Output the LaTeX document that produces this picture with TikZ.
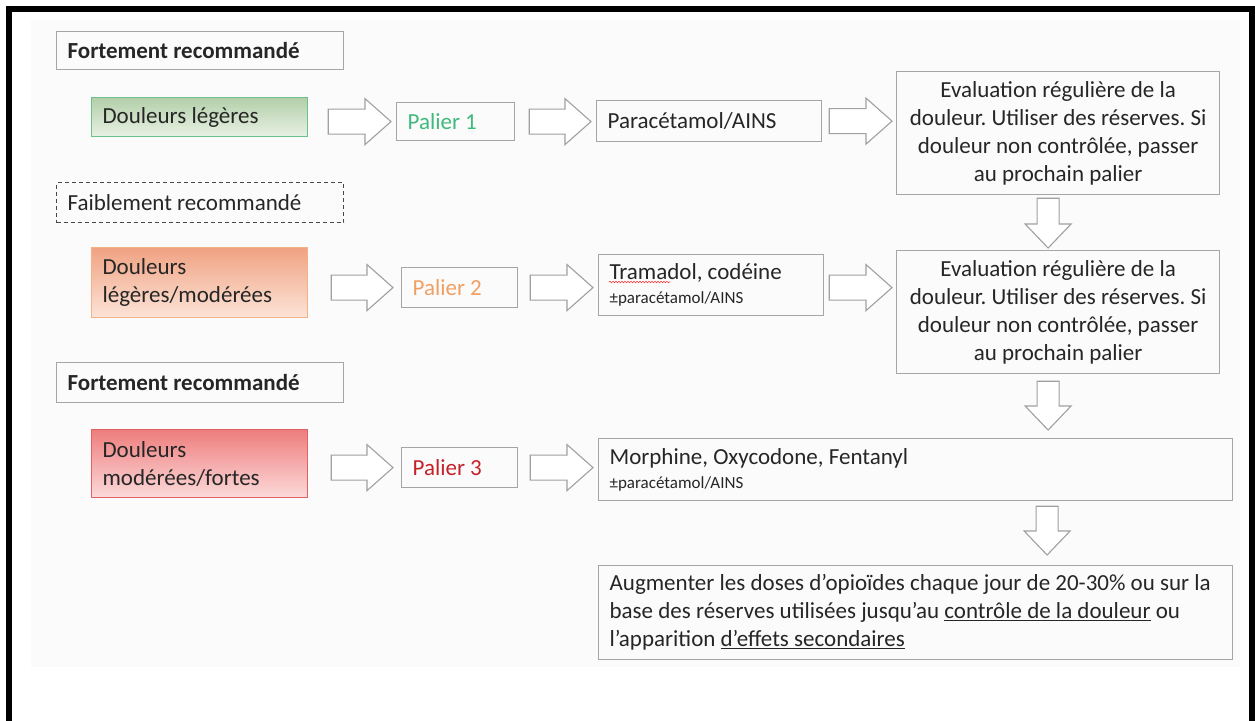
\documentclass[tikz,border=0pt]{standalone}
\usepackage{fontspec}
\setmainfont{Carlito}
\frenchspacing
\usetikzlibrary{calc,decorations.pathmorphing}
\definecolor{boxgray}{HTML}{A6A6A6}
\definecolor{arrgray}{HTML}{A0A0A0}
\definecolor{txt}{HTML}{262626}
\definecolor{bgfill}{HTML}{FBFBFB}
\definecolor{pgreen}{HTML}{3FB97C}
\definecolor{porange}{HTML}{F0A063}
\definecolor{pred}{HTML}{C42129}
\definecolor{gborder}{HTML}{6CC08B}
\definecolor{gtop}{HTML}{B3CFA9}
\definecolor{gbot}{HTML}{E8F1E4}
\definecolor{oborder}{HTML}{F4B183}
\definecolor{otop}{HTML}{F0A282}
\definecolor{obot}{HTML}{FCE4D8}
\definecolor{rborder}{HTML}{E06262}
\definecolor{rtop}{HTML}{EE7D7D}
\definecolor{rbot}{HTML}{FCDADA}
\newcommand\bigtxt{\fontsize{23}{28}\selectfont}
\newcommand\smalltxt{\fontsize{17}{19}\selectfont}
\tikzset{
  box/.style={draw=boxgray, line width=1.2pt, inner xsep=11pt, inner ysep=0pt,
    anchor=north west, align=flush left, text=txt, font=\bigtxt},
  hollow/.style={draw=arrgray, line width=1.1pt, fill=white, line join=miter},
  greenbox/.style={box, draw=gborder, top color=gtop, bottom color=gbot},
  orangebox/.style={box, draw=oborder, top color=otop, bottom color=obot},
  redbox/.style={box, draw=rborder, top color=rtop, bottom color=rbot},
  dashbox/.style={box, draw=txt!85, dash pattern=on 4pt off 3pt},
}
% hollow block arrow to the right: tail point, tip point, node giving y
\newcommand\blockR[3]{%
  \draw[hollow] let \p1=(#1), \p2=(#2), \p3=(#3) in
    (\x1,\y3+12.5pt) -- (\x2-26pt,\y3+12.5pt) -- (\x2-26pt,\y3+23pt) -- (\x2,\y3)
    -- (\x2-26pt,\y3-23pt) -- (\x2-26pt,\y3-12.5pt) -- (\x1,\y3-12.5pt) -- cycle;}
% hollow block arrow downwards: top point, tip point
\newcommand\blockD[2]{%
  \draw[hollow] let \p1=(#1), \p2=(#2) in
    (\x1-11pt,\y1) -- (\x1+11pt,\y1) -- (\x1+11pt,\y2+24pt) -- (\x1+23pt,\y2+24pt)
    -- (\x1,\y2) -- (\x1-23pt,\y2+24pt) -- (\x1-11pt,\y2+24pt) -- cycle;}
\begin{document}
\begin{tikzpicture}[x=1pt,y=-1pt]
\useasboundingbox (0,0) rectangle (1255,720);
\clip (0,0) rectangle (1255,720);
\fill[white] (0,0) rectangle (1255,720);
\fill[bgfill] (31,20) rectangle (1240,667);
\draw[line width=6pt] (9,9) rectangle (1252,760);

% row 1
\node[box, text width=265pt, minimum height=38pt, font=\bigtxt\bfseries] (fr1) at (56,31) {Fortement recommandé};
\node[greenbox, text width=194pt, minimum height=39pt] (g1) at (91,97) {Douleurs légères};
\node[box, text width=96pt, minimum height=38pt, text=pgreen] (p1) at (396,102) {Palier 1};
\node[box, text width=203pt, minimum height=41pt] (pa1) at (596,100) {Paracétamol/AINS};
\node[box, text width=301pt, minimum height=123pt, align=flush center] (ev1) at (896,71)
  {Evaluation régulière de la\\douleur. Utiliser des réserves. Si\\douleur non contrôlée, passer\\au prochain palier};

% row 2
\node[dashbox, text width=265pt, minimum height=40pt] (fa) at (56,182) {Faiblement recommandé};
\node[orangebox, text width=194pt, minimum height=70pt] (o2) at (91,247) {Douleurs\\légères/modérées};
\node[box, text width=94pt, minimum height=40pt, text=porange] (p2) at (401,267) {Palier 2};
\node[box, text width=203pt, minimum height=61pt] (tr) at (598,254)
  {Tramadol, codéine\\[-4pt]{\smalltxt ±paracétamol/AINS}};
\node[box, text width=301pt, minimum height=123pt, align=flush center] (ev2) at (896,250)
  {Evaluation régulière de la\\douleur. Utiliser des réserves. Si\\douleur non contrôlée, passer\\au prochain palier};

% row 3
\node[box, text width=265pt, minimum height=40pt, font=\bigtxt\bfseries] (fr2) at (56,362) {Fortement recommandé};
\node[redbox, text width=194pt, minimum height=68pt] (r3) at (91,429) {Douleurs\\modérées/fortes};
\node[box, text width=94pt, minimum height=40pt, text=pred] (p3) at (401,447) {Palier 3};
\node[box, text width=612pt, minimum height=62pt] (mo) at (598,438)
  {Morphine, Oxycodone, Fentanyl\\[-4pt]{\smalltxt ±paracétamol/AINS}};
\node[box, text width=612pt, minimum height=94pt] (fin) at (598,565)
  {Augmenter les doses d’opioïdes chaque jour de 20-30\% ou sur la\\base des réserves utilisées jusqu’au \underline{contrôle de la douleur} ou\\l’apparition \underline{d’effets secondaires}};

% spelling mark under "Tramadol"
\draw[red!80, line width=0.6pt, decorate, decoration={snake, amplitude=0.7pt, segment length=3pt}]
  ($(tr.north west)+(11,28)$) -- ($(tr.north west)+(72,28)$);

% horizontal block arrows
\blockR{$(g1.east)+(20,0)$}{$(p1.west)+(-5,0)$}{p1}
\blockR{$(p1.east)+(14,0)$}{$(pa1.west)+(-5,0)$}{p1}
\blockR{$(pa1.east)+(7,0)$}{$(ev1.west)+(-4,0)$}{pa1}
\blockR{$(o2.east)+(23,0)$}{$(p2.west)+(-8,0)$}{p2}
\blockR{$(p2.east)+(12,0)$}{$(tr.west)+(-5,0)$}{p2}
\blockR{$(tr.east)+(5,0)$}{$(ev2.west)+(-4,0)$}{p2}
\blockR{$(r3.east)+(23,0)$}{$(p3.west)+(-8,0)$}{p3}
\blockR{$(p3.east)+(12,0)$}{$(mo.west)+(-5,0)$}{p3}

% vertical block arrows
\blockD{$(ev1.south)+(-10,3)$}{$(ev2.north)+(-10,-2)$}
\blockD{$(ev2.south)+(-10,7)$}{$(ev2.south |- mo.north)+(-10,-8)$}
\blockD{$(ev2.south |- mo.south)+(-11,5)$}{$(ev2.south |- fin.north)+(-11,-10)$}
\end{tikzpicture}
\end{document}
